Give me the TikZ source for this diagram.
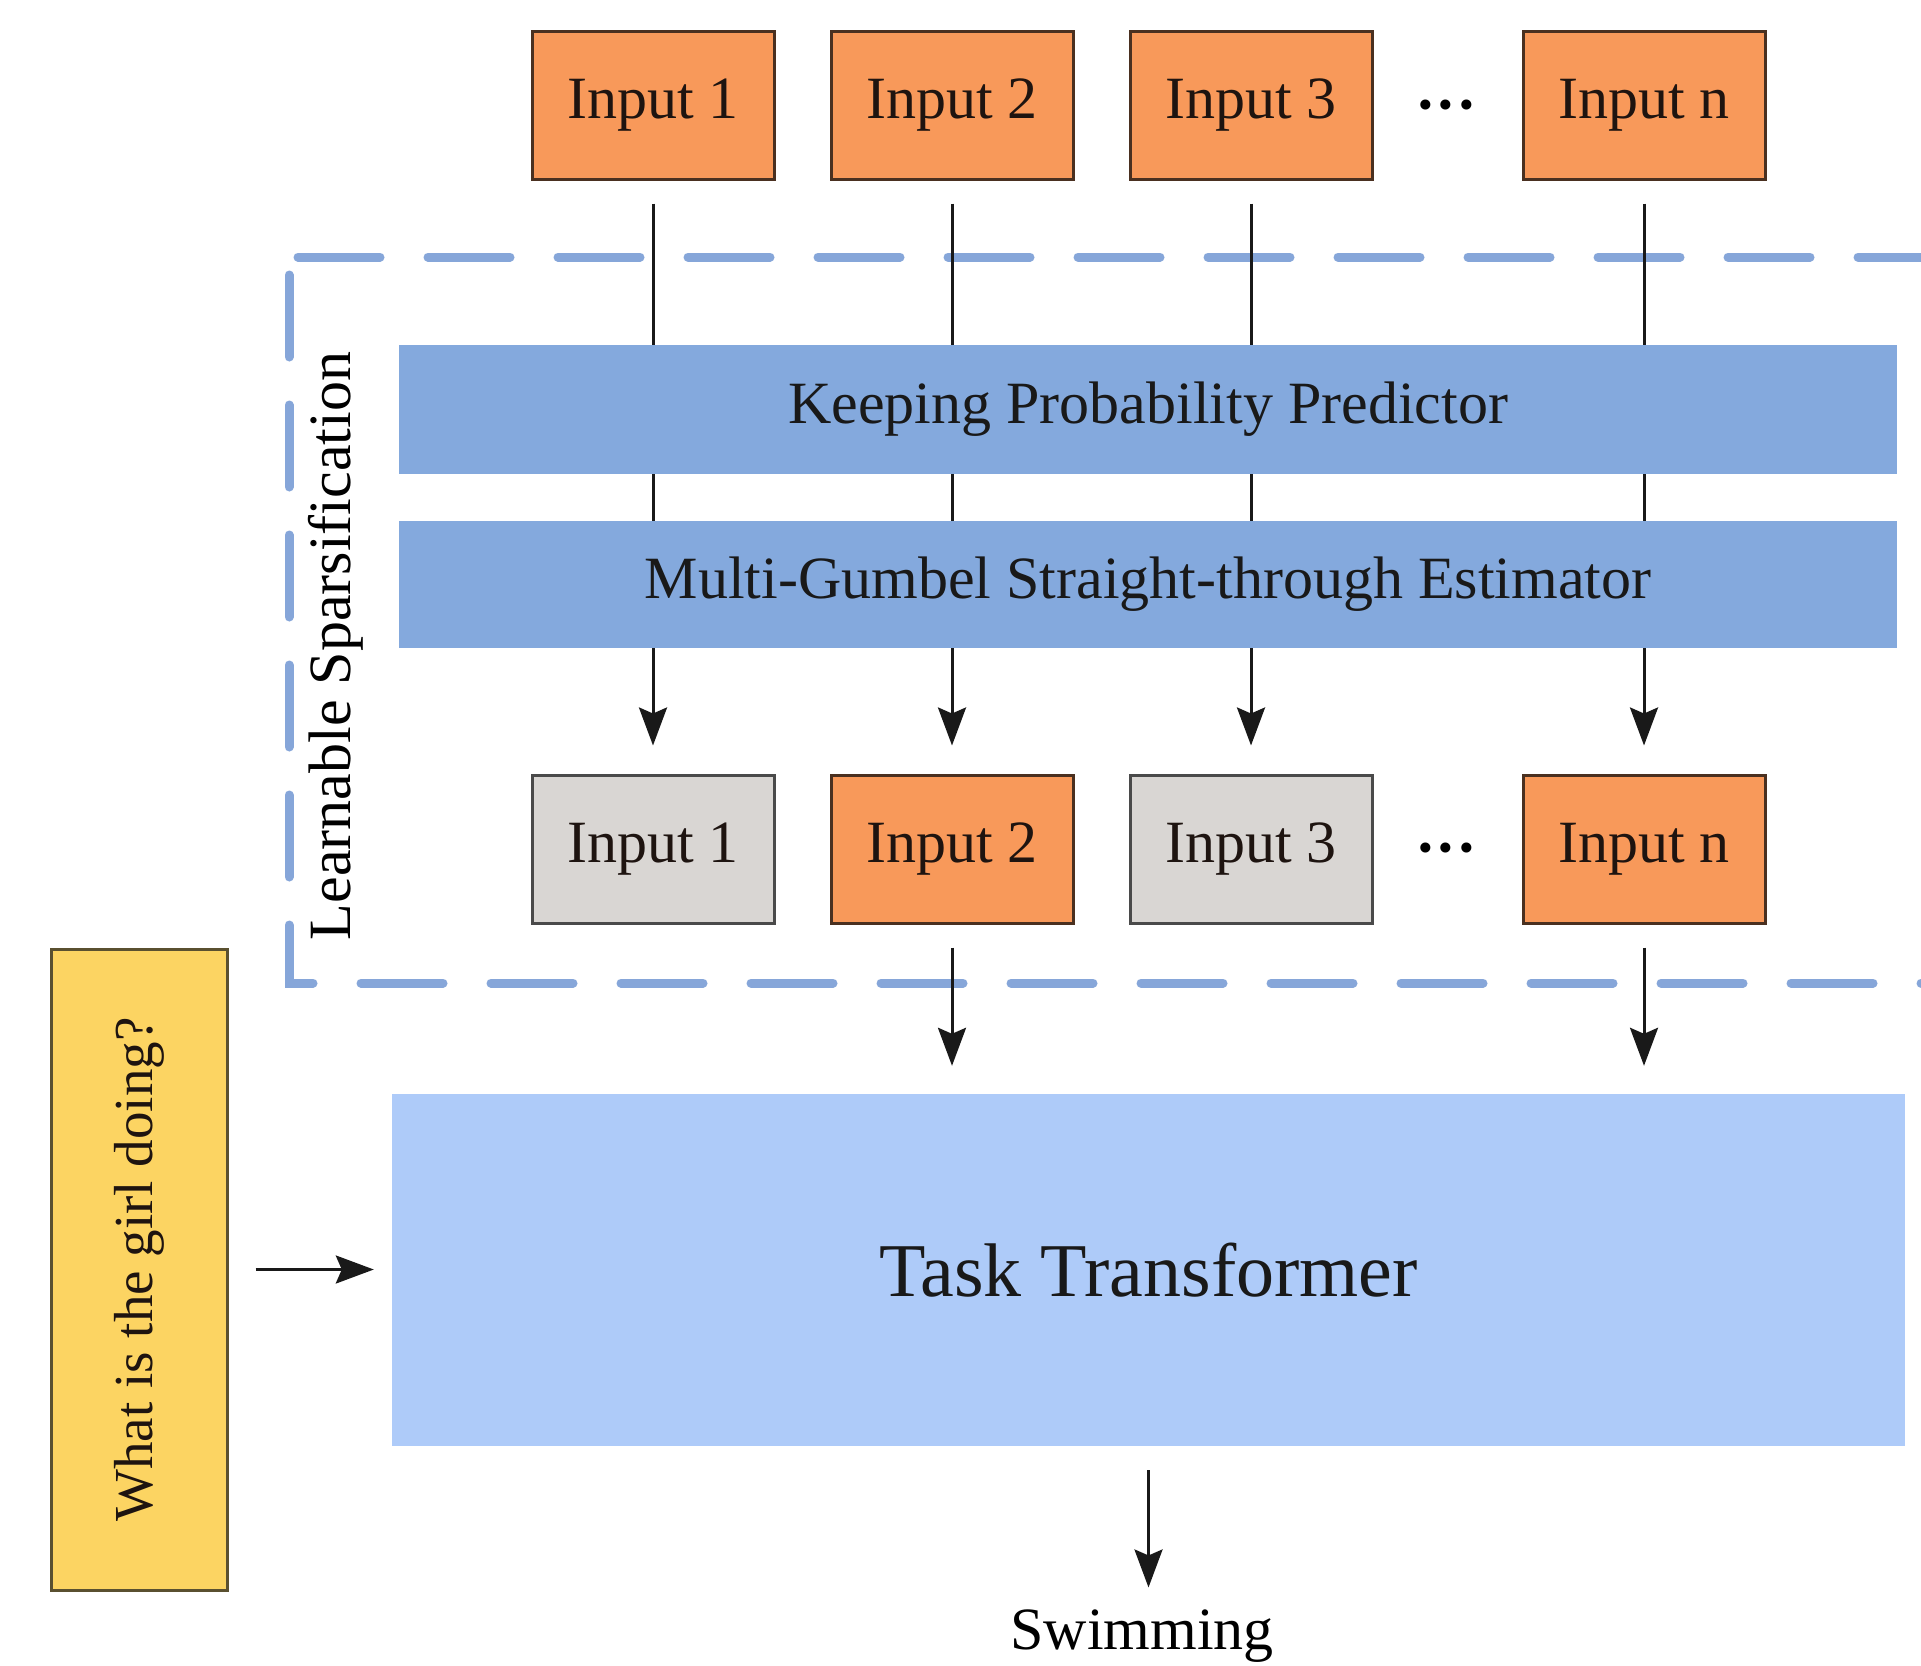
\documentclass[tikz,border=0pt]{standalone}
\usepackage{fontspec}
\setmainfont{Liberation Serif}
\usetikzlibrary{arrows.meta}
\definecolor{orangefill}{HTML}{F8995A}
\definecolor{orangeline}{HTML}{4A3020}
\definecolor{greyfill}{HTML}{D9D6D3}
\definecolor{greyline}{HTML}{4A4A4A}
\definecolor{barblue}{HTML}{84A9DD}
\definecolor{ttblue}{HTML}{AECBF9}
\definecolor{yellowfill}{HTML}{FCD462}
\definecolor{yellowline}{HTML}{5A5030}
\definecolor{dashblue}{HTML}{86A6D9}
\definecolor{inktext}{HTML}{1E1410}
\begin{document}
\begin{tikzpicture}[x=1pt,y=-1pt,
 inbox/.style={draw=orangeline, fill=orangefill, line width=3pt, minimum width=242pt, minimum height=148pt, inner sep=0pt, text=inktext, font=\fontsize{60}{72}\selectfont},
 greybox/.style={inbox, draw=greyline, fill=greyfill},
 bar/.style={fill=barblue, minimum width=1498pt, inner sep=0pt, text=black!90, font=\fontsize{60}{72}\selectfont},
 conn/.style={line width=3pt, draw=black!90},
 arr/.style={conn, -{Stealth[length=38pt,width=28pt,inset=6pt]}},
 dotsnode/.style={font=\fontsize{62}{72}\selectfont\bfseries, inner sep=0pt},
 plaintext/.style={inner sep=0pt, font=\fontsize{60}{72}\selectfont},
 dashline/.style={dashblue, line width=9pt, line cap=round},
]
\useasboundingbox (0,0) rectangle (1921,1665);
\begin{scope}
\clip (0,0) rectangle (1921,1665);
\draw[dashline, dash pattern=on 82pt off 48pt] (298,257) -- (2100,257);
\draw[dashline, dash pattern=on 82pt off 48pt, dash phase=117pt] (289,262) -- (289,983) -- (2100,983);
\end{scope}

% top row
\node[inbox] (t1) at (653,105) {Input 1};
\node[inbox] (t2) at (952,105) {Input 2};
\node[inbox] (t3) at (1251,105) {Input 3};
\node[dotsnode] (td) at (1446,113) {···};
\node[inbox] (tn) at (1644,105) {Input n};

% bars
\node[bar, minimum height=129pt] (kpp) at (1148,409.5) {Keeping Probability Predictor};
\node[bar, minimum height=127pt] (mg) at (1148,584.5) {Multi-Gumbel Straight-through Estimator};

% bottom row
\node[greybox] (b1) at (653,849) {Input 1};
\node[inbox] (b2) at (952,849) {Input 2};
\node[greybox] (b3) at (1251,849) {Input 3};
\node[dotsnode] (bd) at (1446,856) {···};
\node[inbox] (bn) at (1644,849) {Input n};

% label
\node[plaintext, rotate=90] (ls) at (336,646) {Learnable Sparsification};

% task transformer
\node[fill=ttblue, minimum width=1513pt, minimum height=352pt, inner sep=0pt, font=\fontsize{76}{90}\selectfont, text=black!90] (tt) at (1148.5,1270) {Task Transformer};

% question
\node[draw=yellowline, fill=yellowfill, line width=3pt, minimum width=176pt, minimum height=641pt, inner sep=0pt] (q) at (139,1269.5) {};
\node[plaintext, rotate=90, font=\fontsize{55}{66}\selectfont, text=inktext] (qt) at (q.center) {What is the girl doing?};

\node[plaintext] (sw) at (1142,1636) {Swimming};

% connectors
\foreach \c/\b in {t1/b1,t2/b2,t3/b3,tn/bn}{
  \draw[conn, shorten <=23pt] (\c.south) -- (\c.south |- kpp.north);
  \draw[conn] (\c.south |- kpp.south) -- (\c.south |- mg.north);
  \draw[arr, shorten >=28pt] (\c.south |- mg.south) -- (\b.north);
}
\foreach \b in {b2,bn}{
  \draw[arr, shorten <=23pt, shorten >=28pt] (\b.south) -- (\b.south |- tt.north);
}
\draw[arr, shorten <=27pt, shorten >=18pt] (q.east) -- (q.east -| tt.west);
\draw[arr, shorten <=24pt, shorten >=22pt] (tt.south) -- (tt.south |- sw.north);
\end{tikzpicture}
\end{document}
